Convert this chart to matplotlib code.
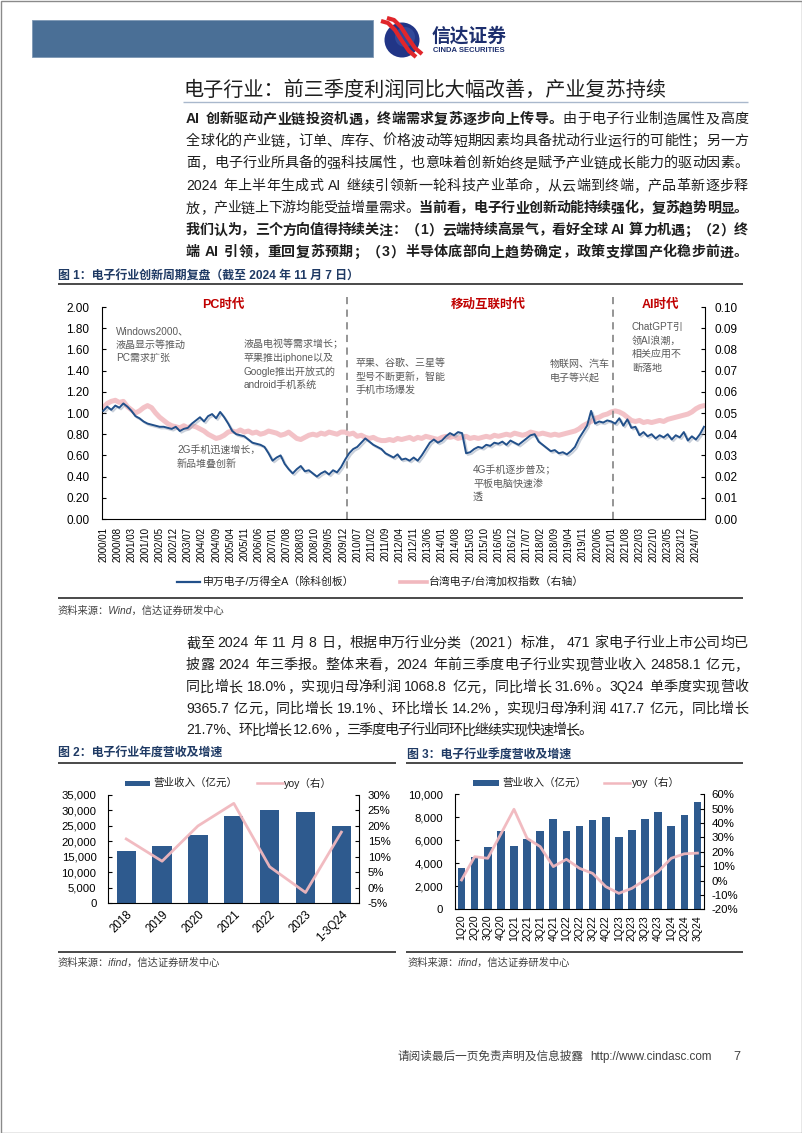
import numpy as np
import matplotlib
matplotlib.use("Agg")
import matplotlib.pyplot as plt
import matplotlib.patheffects as pe
from matplotlib.patches import Rectangle, Circle
from matplotlib.font_manager import FontProperties
from matplotlib.ticker import FuncFormatter

plt.rcParams['font.family'] = ['Liberation Sans', 'Noto Sans CJK SC']
plt.rcParams['axes.unicode_minus'] = False

# ---------------- 数据 ----------------
# 图1：2000/01 起，每 2 个月取一个点（左轴：申万电子/万得全A）
sw_elec_rel = [
    1.02, 1.06, 1.03, 1.07, 1.05, 1.09, 1.06, 1.02, 0.97, 0.95,
    0.92, 0.90, 0.89, 0.88, 0.87, 0.87, 0.86, 0.85, 0.87, 0.83,
    0.85, 0.86, 0.90, 0.93, 0.96, 0.92, 0.97, 0.99, 0.95, 1.01,
    0.96, 0.90, 0.83, 0.80, 0.79, 0.78, 0.75, 0.72, 0.71, 0.70,
    0.68, 0.62, 0.55, 0.58, 0.60, 0.52, 0.47, 0.43, 0.47, 0.50,
    0.45, 0.46, 0.43, 0.40, 0.43, 0.45, 0.42, 0.46, 0.44, 0.49,
    0.56, 0.62, 0.66, 0.68, 0.72, 0.76, 0.73, 0.70, 0.68, 0.66,
    0.62, 0.60, 0.58, 0.61, 0.56, 0.57, 0.55, 0.58, 0.55, 0.60,
    0.66, 0.72, 0.75, 0.72, 0.74, 0.78, 0.81, 0.79, 0.82, 0.81,
    0.62, 0.63, 0.66, 0.68, 0.67, 0.70, 0.69, 0.72, 0.71, 0.73,
    0.70, 0.74, 0.72, 0.70, 0.73, 0.76, 0.79, 0.80, 0.73, 0.70,
    0.67, 0.64, 0.65, 0.62, 0.63, 0.61, 0.64, 0.68, 0.76, 0.82,
    0.88, 1.02, 0.90, 0.92, 0.91, 0.93, 0.92, 0.90, 0.95, 0.88,
    0.94, 0.86, 0.87, 0.79, 0.82, 0.78, 0.80, 0.76, 0.79, 0.77,
    0.80, 0.75, 0.79, 0.77, 0.82, 0.74, 0.78, 0.75, 0.80, 0.87,
]
# 右轴：台湾电子/台湾加权指数
tw_elec_rel = [
    .0525, .0545, .0555, .0560, .0550, .0555, .0530, .0515, .0500, .0510,
    .0525, .0535, .0525, .0500, .0480, .0465, .0450, .0440, .0435, .0430,
    .0440, .0430, .0440, .0435, .0425, .0415, .0400, .0390, .0380, .0385,
    .0395, .0410, .0415, .0410, .0420, .0410, .0415, .0405, .0410, .0400,
    .0405, .0415, .0410, .0405, .0395, .0400, .0410, .0395, .0380, .0375,
    .0385, .0395, .0400, .0395, .0405, .0400, .0410, .0405, .0400, .0410,
    .0410, .0400, .0405, .0390, .0395, .0385, .0380, .0385, .0375, .0370,
    .0370, .0375, .0370, .0380, .0375, .0380, .0385, .0375, .0385, .0380,
    .0390, .0385, .0380, .0375, .0385, .0390, .0385, .0390, .0380, .0385,
    .0390, .0380, .0385, .0380, .0385, .0390, .0385, .0395, .0390, .0395,
    .0400, .0395, .0405, .0400, .0395, .0400, .0410, .0405, .0400, .0405,
    .0400, .0395, .0400, .0395, .0400, .0405, .0410, .0415, .0425, .0440,
    .0450, .0460, .0475, .0480, .0490, .0495, .0505, .0510, .0505, .0495,
    .0480, .0465, .0460, .0465, .0455, .0460, .0455, .0460, .0465, .0460,
    .0470, .0475, .0480, .0485, .0490, .0495, .0505, .0520, .0530, .0535,
]
cycle_tick_labels = [
    '2000/01', '2000/08', '2001/03', '2001/10', '2002/05', '2002/12', '2003/07',
    '2004/02', '2004/09', '2005/04', '2005/11', '2006/06', '2007/01', '2007/08',
    '2008/03', '2008/10', '2009/05', '2009/12', '2010/07', '2011/02', '2011/09',
    '2012/04', '2012/11', '2013/06', '2014/01', '2014/08', '2015/03', '2015/10',
    '2016/05', '2016/12', '2017/07', '2018/02', '2018/09', '2019/04', '2019/11',
    '2020/06', '2021/01', '2021/08', '2022/03', '2022/10', '2023/05', '2023/12',
    '2024/07',
]
era_split_month = [121, 253]   # 月序号（2000/01 = 0）

# 图2
years = ['2018', '2019', '2020', '2021', '2022', '2023', '1-3Q24']
rev_year = [16900, 18500, 22200, 28200, 30100, 29600, 24858.1]
yoy_year = [15.8, 8.6, 20.0, 27.3, 6.8, -1.5, 18.0]

# 图3
quarters = ['1Q20', '2Q20', '3Q20', '4Q20', '1Q21', '2Q21', '3Q21', '4Q21',
            '1Q22', '2Q22', '3Q22', '4Q22', '1Q23', '2Q23', '3Q23', '4Q23',
            '1Q24', '2Q24', '3Q24']
rev_q = [3560, 4580, 5390, 6840, 5510, 6090, 6840, 7860, 6840, 7250,
         7770, 8000, 6260, 6900, 7860, 8490, 7250, 8170, 9365.7]
yoy_q = [0.4, 16.6, 15.5, 32.4, 49.6, 29.4, 23.6, 9.7, 14.8, 8.5,
         5.0, -4.2, -8.9, -5.4, 0.4, 6.2, 15.5, 18.6, 19.1]

# ---------------- 文字 ----------------
page_title = '电子行业：前三季度利润同比大幅改善，产业复苏持续'
para1 = [
    [('AI 创新驱动产业链投资机遇，终端需求复苏逐步向上传导。', True), ('由于电子行业制造属性及高度', False)],
    [('全球化的产业链，订单、库存、价格波动等短期因素均具备扰动行业运行的可能性；另一方', False)],
    [('面，电子行业所具备的强科技属性，也意味着创新始终是赋予产业链成长能力的驱动因素。', False)],
    [('2024 年上半年生成式 AI 继续引领新一轮科技产业革命，从云端到终端，产品革新逐步释', False)],
    [('放，产业链上下游均能受益增量需求。', False), ('当前看，电子行业创新动能持续强化，复苏趋势明显。', True)],
    [('我们认为，三个方向值得持续关注：（1）云端持续高景气，看好全球 AI 算力机遇；（2）终', True)],
    [('端 AI 引领，重回复苏预期；（3）半导体底部向上趋势确定，政策支撑国产化稳步前进。', True)],
]
para2 = [
    '截至 2024 年 11 月 8 日，根据申万行业分类（2021）标准， 471 家电子行业上市公司均已',
    '披露 2024 年三季报。整体来看，2024 年前三季度电子行业实现营业收入 24858.1 亿元，',
    '同比增长 18.0%，实现归母净利润 1068.8 亿元，同比增长 31.6%。3Q24 单季度实现营收',
    '9365.7 亿元，同比增长 19.1%、环比增长 14.2%，实现归母净利润 417.7 亿元，同比增长',
    '21.7%、环比增长 12.6%，三季度电子行业同环比继续实现快速增长。',
]

BLUE = '#22508a'
BAR = '#2e5a8e'
PINK = '#f1b8be'
TITLE_C = '#1f3a64'
TXT = '#1e1e1e'
GRAY = '#5a5a5a'

W, H = 802, 1133
fig = plt.figure(figsize=(W / 100, H / 100), dpi=100)
bg = fig.add_axes([0, 0, 1, 1])
bg.set_xlim(0, W)
bg.set_ylim(H, 0)
bg.axis('off')
renderer = fig.canvas.get_renderer()


def ax_box(x0, y0, x1, y1):
    a = fig.add_axes([x0 / W, 1 - y1 / H, (x1 - x0) / W, (y1 - y0) / H])
    a.set_facecolor('none')
    return a


def hline(y, x0, x1, color='#3a3a3a', lw=1.3):
    bg.plot([x0, x1], [y, y], color=color, lw=lw, solid_capstyle='butt')


# ---- 两端对齐的正文 ----
def tokens_of(segments):
    toks = []
    for s, b in segments:
        buf = ''
        for c in s:
            if ord(c) < 128 and c != ' ':
                buf += c
            else:
                if buf:
                    toks.append((buf, b))
                    buf = ''
                toks.append((c, b))
        if buf:
            toks.append((buf, b))
    return toks


def tok_width(t, bold, size):
    px = size * 100 / 72
    if t == ' ':
        return 0.28 * px
    if ord(t[0]) < 128:
        fp = FontProperties(family=['Liberation Sans', 'Noto Sans CJK SC'], size=size,
                            weight='bold' if bold else 'normal')
        w, h, d = renderer.get_text_width_height_descent(t, fp, ismath=False)
        return w + 1.0
    return px


def text_line(y, segments, x0=186, x1=748, size=10.1):
    toks = tokens_of(segments)
    widths = [tok_width(t, b, size) for t, b in toks]
    gap = 0.0
    if len(toks) > 1:
        gap = (x1 - x0 - sum(widths)) / (len(toks) - 1)
    x = x0
    base = y + 0.38 * size * 100 / 72
    for (t, b), w in zip(toks, widths):
        if t != ' ':
            bg.text(x, base, t, fontsize=size, fontweight='bold' if b else 'normal',
                    ha='left', va='baseline', color=TXT)
        x += w + gap


# ---------------- 页眉 ----------------
bg.add_patch(Rectangle((0.5, 0.5), W - 1, H - 1, fill=False, edgecolor='#8a8a8a', lw=1))
bg.add_patch(Rectangle((32, 20), 341, 37, facecolor='#4a6f96', edgecolor='#7d97b4', lw=0.6))
bg.add_patch(Circle((402, 40), 17.5, facecolor='#213586', edgecolor='none'))
bg.add_patch(Circle((405, 37), 10, facecolor='#3b55a6', edgecolor='none', alpha=0.6))
lx = np.array([381, 388, 395, 402, 409, 416])
ly = np.array([21, 23, 30, 41, 51, 57])
for dx, dy in [(0, 0), (6, -3)]:
    bg.plot(lx + dx, ly + dy, color='#e0262b', lw=3.0, solid_capstyle='butt')
bg.text(432, 36, '信达证券', fontsize=13.5, fontweight='bold', color='#1d2f6e', va='center', ha='left')
bg.text(433, 50.5, 'CINDA SECURITIES', fontsize=5.5, fontweight='bold', color='#1d2f6e', va='center',
        ha='left', family=['Liberation Sans Narrow', 'Liberation Sans'])

# 标题
bg.text(183, 90, page_title, fontsize=14.5, color=TXT, va='center', ha='left')
hline(102, 183, 748, color='#a9b8cc', lw=1.0)

for y, segs in zip([118, 140, 162, 184.5, 207, 229, 251], para1):
    text_line(y, segs)

# ---------------- 图1 ----------------
bg.text(58, 276, '图 1：电子行业创新周期复盘（截至 2024 年 11 月 7 日）', fontsize=8.6,
        fontweight='bold', color=TITLE_C, va='center', ha='left')
hline(284, 58, 743)

ax1 = ax_box(102, 307, 705, 519)
m_sw = np.arange(len(sw_elec_rel)) * 2
ax1.plot(m_sw, sw_elec_rel, color=BLUE, lw=1.4, zorder=4,
         path_effects=[pe.SimpleLineShadow(offset=(1.2, -1.2), shadow_color='#8c9ab0', alpha=0.45),
                       pe.Normal()])
ax1.set_xlim(-0.6, 298.5)
ax1.set_ylim(0, 2)
ax1.set_yticks(np.arange(0, 2.001, 0.2))
ax1.yaxis.set_major_formatter(FuncFormatter(lambda v, p: '%.2f' % v))
ax1.set_xticks(np.arange(len(cycle_tick_labels)) * 7)
ax1.set_xticklabels(cycle_tick_labels, rotation=90, fontsize=7)
ax1.tick_params(axis='x', length=0, pad=5.5)
ax1.tick_params(axis='y', direction='in', length=3, pad=9, labelsize=8.5)
for s in ['top', 'right']:
    ax1.spines[s].set_visible(False)
for x in era_split_month:
    ax1.plot([x, x], [0, 2.09], color='#8c8c8c', lw=1.3, ls=(0, (4, 3)), clip_on=False, zorder=2)

ax1r = ax1.twinx()
m_tw = np.arange(len(tw_elec_rel)) * 2
ax1r.plot(m_tw, tw_elec_rel, color=PINK, lw=3.6, alpha=0.85, solid_capstyle='round')
ax1r.set_ylim(0, 0.1)
ax1r.set_yticks(np.arange(0, 0.1001, 0.01))
ax1r.yaxis.set_major_formatter(FuncFormatter(lambda v, p: '%.2f' % v))
ax1r.tick_params(axis='y', direction='in', length=3, pad=7, labelsize=8.5)
for s in ['top', 'left', 'bottom']:
    ax1r.spines[s].set_visible(False)
ax1.set_zorder(ax1r.get_zorder() + 1)

# 时代标签与注释
for x, s in [(223, 'PC时代'), (488, '移动互联时代'), (660, 'AI时代')]:
    bg.text(x, 305, s, fontsize=9, fontweight='bold', color='#c00000', ha='center', va='center')


def note(x, y, lines, dy=13.6):
    for i, s in enumerate(lines):
        bg.text(x, y + i * dy, s, fontsize=7.2, color=GRAY, va='center', ha='left')


note(116, 331, ['Windows2000、', '液晶显示等推动', 'PC需求扩张'])
note(244, 344, ['液晶电视等需求增长；', '苹果推出iphone以及', 'Google推出开放式的', 'android手机系统'])
note(356, 363, ['苹果、谷歌、三星等', '型号不断更新，智能', '手机市场爆发'])
note(550, 364, ['物联网、汽车', '电子等兴起'])
note(632, 327, ['ChatGPT引', '领AI浪潮，', '相关应用不', '断落地'])
note(177, 450, ['2G手机迅速增长，', '新品堆叠创新'])
note(473, 470, ['4G手机逐步普及；', '平板电脑快速渗', '透'])

# 图例
bg.plot([177, 200], [582, 582], color=BLUE, lw=1.6)
bg.text(203, 582, '申万电子/万得全A（除科创板）', fontsize=7.8, va='center', ha='left', color=TXT)
bg.plot([400, 427], [582, 582], color=PINK, lw=2.6)
bg.text(429, 582, '台湾电子/台湾加权指数（右轴）', fontsize=7.8, va='center', ha='left', color=TXT)
hline(598, 58, 743)
bg.text(58, 611, '资料来源：Wind，信达证券研发中心', fontsize=7.4, style='italic', color='#404040',
        va='center', ha='left')

# 中段正文（末行按原文宽度收尾）
para2_right = [748, 748, 748, 748, 592]
for y, s, xr in zip([642, 664, 686, 707.5, 729], para2, para2_right):
    text_line(y, [(s, False)], x1=xr)

# ---------------- 图2 ----------------
bg.text(58, 753, '图 2：电子行业年度营收及增速', fontsize=8.6, fontweight='bold', color=TITLE_C,
        va='center', ha='left')
hline(762.5, 58, 396)
ax2 = ax_box(108.3, 795, 359.3, 903.3)
xy = np.arange(len(years))
ax2.bar(xy, rev_year, width=0.54, color=BAR, zorder=2)
ax2.set_xlim(-0.5, len(years) - 0.5)
ax2.set_ylim(0, 35000)
ax2.set_yticks(np.arange(0, 35001, 5000))
ax2.yaxis.set_major_formatter(FuncFormatter(lambda v, p: '{:,.0f}'.format(v)))
ax2.set_xticks(xy)
ax2.set_xticklabels(years, rotation=45, ha='right', rotation_mode='anchor', fontsize=8.3)
ax2.tick_params(axis='x', length=0, pad=4)
ax2.tick_params(axis='y', direction='in', length=3, pad=8.5, labelsize=8.2)
ax2.spines['top'].set_visible(False)
ax2.spines['right'].set_visible(False)
ax2r = ax2.twinx()
ax2r.plot(xy, yoy_year, color=PINK, lw=2.0, alpha=0.95)
ax2r.set_ylim(-5, 30)
ax2r.set_yticks(np.arange(-5, 30.1, 5))
ax2r.yaxis.set_major_formatter(FuncFormatter(lambda v, p: '%d%%' % round(v)))
ax2r.tick_params(axis='y', direction='in', length=3, pad=6, labelsize=8.2)
for s in ['top', 'left', 'bottom']:
    ax2r.spines[s].set_visible(False)
bg.add_patch(Rectangle((125, 780.5), 25, 5.5, facecolor=BAR, edgecolor='none'))
bg.text(153, 783, '营业收入（亿元）', fontsize=7.6, va='center', ha='left', color=TXT)
bg.plot([257, 283], [783, 783], color=PINK, lw=1.8)
bg.text(284, 783, 'yoy（右）', fontsize=7.6, va='center', ha='left', color=TXT)
hline(952, 58, 396)
bg.text(58, 963, '资料来源：ifind，信达证券研发中心', fontsize=7.4, style='italic', color='#404040',
        va='center', ha='left')

# ---------------- 图3 ----------------
bg.text(407, 755, '图 3：电子行业季度营收及增速', fontsize=8.6, fontweight='bold', color=TITLE_C,
        va='center', ha='left')
hline(763.3, 406, 743)
ax3 = ax_box(455, 794.3, 704, 909.3)
xq = np.arange(len(quarters))
ax3.bar(xq, rev_q, width=0.58, color=BAR, zorder=2)
ax3.set_xlim(-0.5, len(quarters) - 0.5)
ax3.set_ylim(0, 10000)
ax3.set_yticks(np.arange(0, 10001, 2000))
ax3.yaxis.set_major_formatter(FuncFormatter(lambda v, p: '{:,.0f}'.format(v)))
ax3.set_xticks(xq)
ax3.set_xticklabels(quarters, rotation=90, fontsize=7.6)
ax3.tick_params(axis='x', length=0, pad=4)
ax3.tick_params(axis='y', direction='in', length=3, pad=8.5, labelsize=8.2)
ax3.spines['top'].set_visible(False)
ax3.spines['right'].set_visible(False)
ax3r = ax3.twinx()
ax3r.plot(xq, yoy_q, color=PINK, lw=2.0, alpha=0.95)
ax3r.set_ylim(-20, 60)
ax3r.set_yticks(np.arange(-20, 60.1, 10))
ax3r.yaxis.set_major_formatter(FuncFormatter(lambda v, p: '%d%%' % round(v)))
ax3r.tick_params(axis='y', direction='in', length=3, pad=5.5, labelsize=8.2)
for s in ['top', 'left', 'bottom']:
    ax3r.spines[s].set_visible(False)
bg.add_patch(Rectangle((472.7, 780), 26.6, 5.5, facecolor=BAR, edgecolor='none'))
bg.text(502, 782.7, '营业收入（亿元）', fontsize=7.6, va='center', ha='left', color=TXT)
bg.plot([604, 630], [782.7, 782.7], color=PINK, lw=1.8)
bg.text(632, 782.7, 'yoy（右）', fontsize=7.6, va='center', ha='left', color=TXT)
hline(952, 406, 743)
bg.text(407, 963, '资料来源：ifind，信达证券研发中心', fontsize=7.4, style='italic', color='#404040',
        va='center', ha='left')

# ---------------- 页脚 ----------------
bg.text(398, 1057, '请阅读最后一页免责声明及信息披露', fontsize=8.4, color='#404040', va='center', ha='left')
bg.text(590, 1057, 'http://www.cindasc.com', fontsize=8.4, color='#404040', va='center', ha='left')
bg.text(733, 1057, '7', fontsize=9, color='#404040', va='center', ha='left')

fig.savefig('out.png', dpi=100)
